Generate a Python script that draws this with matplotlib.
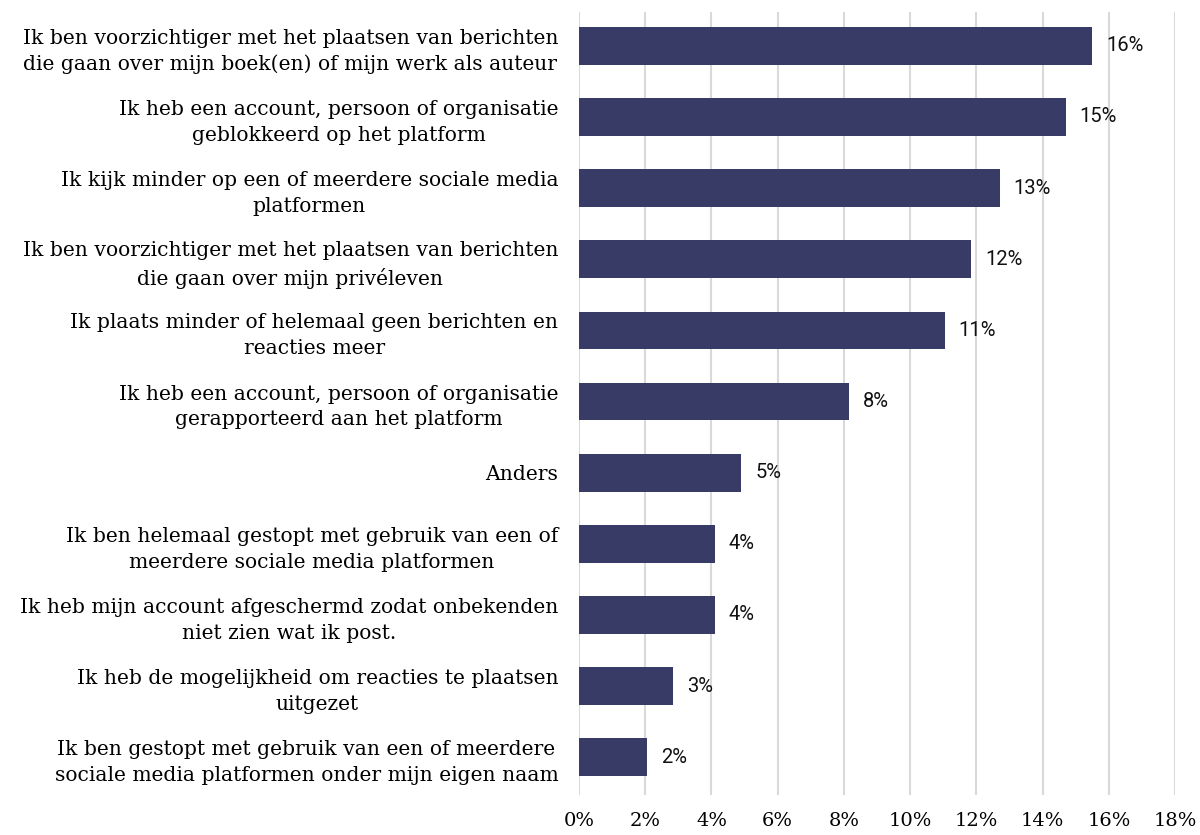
import matplotlib.pyplot as plt

labels = [
    "Ik ben voorzichtiger met het plaatsen van berichten\ndie gaan over mijn boek(en) of mijn werk als auteur",
    "Ik heb een account, persoon of organisatie\ngeblokkeerd op het platform",
    "Ik kijk minder op een of meerdere sociale media\nplatformen",
    "Ik ben voorzichtiger met het plaatsen van berichten\ndie gaan over mijn privéleven",
    "Ik plaats minder of helemaal geen berichten en\nreacties meer",
    "Ik heb een account, persoon of organisatie\ngerapporteerd aan het platform",
    "Anders",
    "Ik ben helemaal gestopt met gebruik van een of\nmeerdere sociale media platformen",
    "Ik heb mijn account afgeschermd zodat onbekenden\nniet zien wat ik post.",
    "Ik heb de mogelijkheid om reacties te plaatsen\nuitgezet",
    "Ik ben gestopt met gebruik van een of meerdere\nsociale media platformen onder mijn eigen naam",
]
values = [15.5, 14.7, 12.7, 11.85, 11.05, 8.15, 4.9, 4.1, 4.1, 2.85, 2.05]
ticks = [0, 2, 4, 6, 8, 10, 12, 14, 16, 18]

fig = plt.figure(figsize=(12, 8.35), dpi=100)
ax = fig.add_axes([0.4825, 0.048, 0.4967, 0.938])

pos = list(range(len(values)))
ax.barh(pos, values, height=0.53, color="#383b66", zorder=3)

for y, v in zip(pos, values):
    ax.annotate(f"{round(v)}%", (v, y), xytext=(10, 0), textcoords="offset points",
                va="center", ha="left", fontsize=14.5, family="Roboto", color="#111111")

ax.set_xlim(0, 18)
ax.set_ylim(10.53, -0.48)
ax.set_xticks(ticks)
ax.set_xticklabels([f"{t}%" for t in ticks], family="DejaVu Serif", fontsize=14)
ax.set_yticks(pos)
ax.set_yticklabels(labels, family="DejaVu Serif", fontsize=14.6, multialignment="center",
                   linespacing=1.45)
ax.tick_params(axis="both", length=0)
ax.tick_params(axis="y", pad=15)
ax.tick_params(axis="x", pad=12)
ax.grid(axis="x", color="#d9d9d9", linewidth=1.5, zorder=0)
for s in ax.spines.values():
    s.set_visible(False)

fig.savefig("out.png", dpi=100)
